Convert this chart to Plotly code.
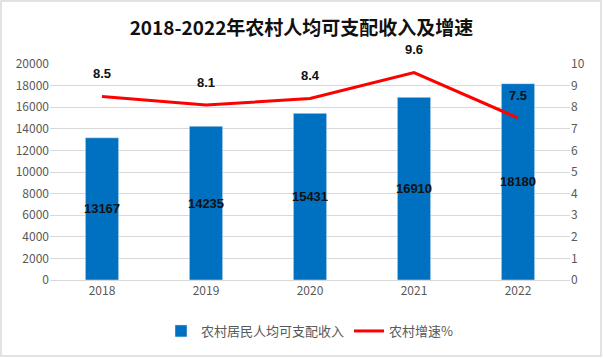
import plotly.graph_objects as go

years = ["2018", "2019", "2020", "2021", "2022"]
income = [13167, 14235, 15431, 16910, 18180]
growth = [8.5, 8.1, 8.4, 9.6, 7.5]
income_ticks = list(range(0, 20001, 2000))
growth_ticks = list(range(0, 11))

label_font = dict(family="Liberation Sans Narrow, Arial Narrow, Liberation Sans", size=13, color="#111111")

fig = go.Figure()
fig.add_trace(go.Bar(
    x=years, y=income, name="农村居民人均可支配收入",
    marker=dict(color="#0070C0"),
    text=[f"<b>{v}</b>" for v in income], textposition="inside", insidetextanchor="middle",
    textangle=0, constraintext="none",
    textfont=label_font,
    width=0.32,
))
fig.add_trace(go.Scatter(
    x=years, y=growth, name="农村增速%", yaxis="y2", mode="lines",
    line=dict(color="#FF0000", width=3),
))
for i, g in enumerate(growth):
    fig.add_annotation(x=i, y=g, xref="x", yref="y2", text=f"<b>{g:.1f}</b>", showarrow=False,
                       yshift=23, font=label_font)

fig.update_layout(
    width=603, height=358,
    margin=dict(l=50, r=33, t=64, b=78),
    paper_bgcolor="white", plot_bgcolor="white",
    title=dict(text="<b>2018-2022年农村人均可支配收入及增速</b>", x=0.5, xanchor="center", y=1 - 28/358, yanchor="middle",
               font=dict(family="Noto Sans CJK SC", size=19, color="#111111")),
    font=dict(family="Liberation Sans Narrow, Noto Sans CJK SC", size=12, color="#595959"),
    showlegend=True,
    legend=dict(orientation="h", x=0.5, xanchor="center", y=-51/216, yanchor="middle",
                font=dict(family="Noto Sans CJK SC", size=13, color="#595959"), itemwidth=30),
    xaxis=dict(type="category", showgrid=False, showline=True, linecolor="#D9D9D9", ticks="",
               tickfont=dict(size=12, color="#595959")),
    yaxis=dict(range=[0, 20000], tickvals=income_ticks, ticktext=[str(v) for v in income_ticks],
               showgrid=True, gridcolor="#D9D9D9", gridwidth=1,
               zeroline=False, ticks="", tickfont=dict(size=12, color="#595959")),
    yaxis2=dict(range=[0, 10], tickvals=growth_ticks, overlaying="y", side="right", showgrid=False,
                zeroline=False, ticks="", tickfont=dict(size=12, color="#595959")),
    bargap=0.68,
)
fig.add_shape(type="rect", xref="paper", yref="paper", x0=-49/520, x1=1+31/520, y0=-76/216, y1=1+63/216,
              line=dict(color="#D9D9D9", width=1.5))
fig.write_html("out.html", config={"displayModeBar": False},
               post_script="document.body.style.margin='0';")
